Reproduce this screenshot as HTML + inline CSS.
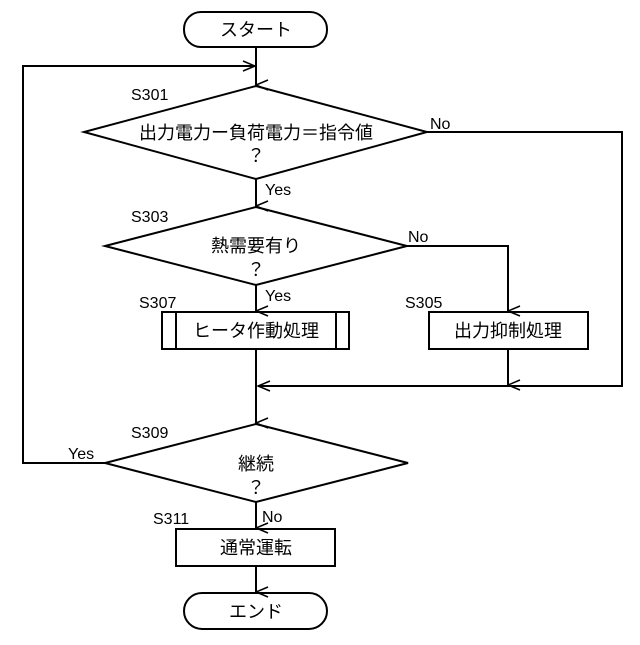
<!DOCTYPE html>
<html><head><meta charset="utf-8"><style>body{margin:0;background:#fff}</style></head><body>
<svg width="640" height="640" viewBox="0 0 640 640" xmlns="http://www.w3.org/2000/svg" font-family="'Liberation Sans','Noto Sans CJK JP',sans-serif" fill="none" stroke="#000" stroke-width="2">
<defs><marker id="a" markerWidth="12" markerHeight="14" refX="6" refY="13" orient="auto-start-reverse" markerUnits="userSpaceOnUse"><path d="M1,1 L6,13 L11,1" stroke="#000" stroke-width="1.5" fill="none"/></marker>
<marker id="l" markerWidth="14" markerHeight="12" refX="13" refY="6" orient="0" markerUnits="userSpaceOnUse"><path d="M1,1 L13,6 L1,11" stroke="#000" stroke-width="1.5" fill="none"/></marker>
<marker id="lf" markerWidth="14" markerHeight="12" refX="1" refY="6" orient="0" markerUnits="userSpaceOnUse"><path d="M13,1 L1,6 L13,11" stroke="#000" stroke-width="1.5" fill="none"/></marker></defs>
<rect x="184" y="12" width="143" height="35" rx="17"/>
<line x1="256" y1="47" x2="256" y2="85" marker-end="url(#a)"/>
<polyline points="105,463 23,463 23,66 255,66" marker-end="url(#l)"/>
<polygon points="256,86 427,132 256,179 84,132"/>
<polyline points="427,132 622,132 622,386 258,386" marker-end="url(#lf)"/>
<line x1="256" y1="179" x2="256" y2="206" marker-end="url(#a)"/>
<polygon points="256,207 407,246 256,285 105,246"/>
<line x1="256" y1="285" x2="256" y2="311" marker-end="url(#a)"/>
<polyline points="407,246 508,246 508,311" marker-end="url(#a)"/>
<rect x="162" y="312" width="187" height="37"/>
<line x1="176" y1="312" x2="176" y2="349"/><line x1="336" y1="312" x2="336" y2="349"/>
<rect x="429" y="312" width="159" height="37"/>
<line x1="508" y1="349" x2="508" y2="385" marker-end="url(#a)"/>
<line x1="256" y1="349" x2="256" y2="423" marker-end="url(#a)"/>
<polygon points="256,424 408,463 256,502 105,463"/>
<line x1="256" y1="502" x2="256" y2="528" marker-end="url(#a)"/>
<rect x="176" y="529" width="159" height="37"/>
<line x1="256" y1="566" x2="256" y2="592" marker-end="url(#a)"/>
<rect x="184" y="593" width="143" height="36" rx="18"/>
<g fill="#000" stroke="none" font-size="18" text-anchor="middle">
<text x="256" y="36">スタート</text>
<text x="256" y="139">出力電力ー負荷電力＝指令値</text>
<text x="256" y="162">？</text>
<text x="256" y="252">熱需要有り</text>
<text x="256" y="276">？</text>
<text x="256" y="337">ヒータ作動処理</text>
<text x="508" y="337">出力抑制処理</text>
<text x="256" y="470">継続</text>
<text x="256" y="494">？</text>
<text x="256" y="554">通常運転</text>
<text x="256" y="618">エンド</text>
</g>
<g fill="#000" stroke="none" font-size="16">
<text x="131" y="100">S301</text>
<text x="131" y="222">S303</text>
<text x="139" y="308">S307</text>
<text x="405" y="308">S305</text>
<text x="131" y="438">S309</text>
<text x="153" y="524">S311</text>
<text x="430" y="129">No</text>
<text x="265" y="195">Yes</text>
<text x="408" y="242">No</text>
<text x="265" y="301">Yes</text>
<text x="68" y="459">Yes</text>
<text x="262" y="522">No</text>
</g>
</svg>
</body></html>
